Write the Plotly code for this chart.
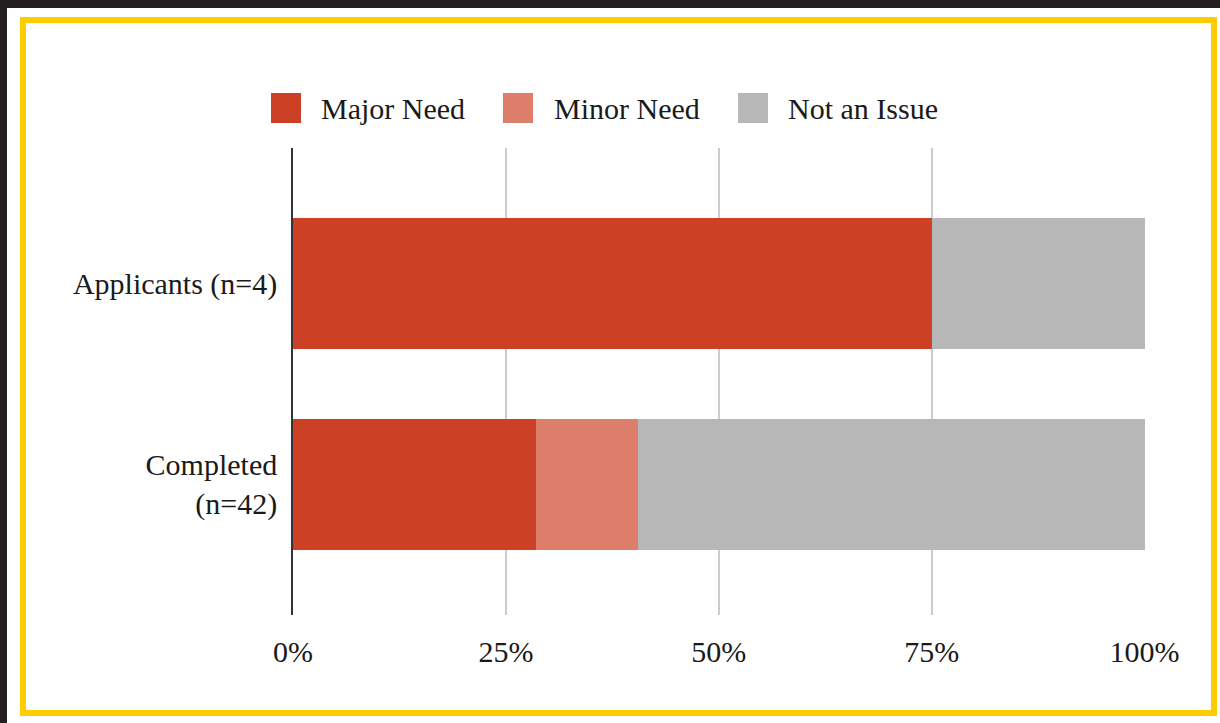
import plotly.graph_objects as go

# ---- data ----
categories = ["Applicants (n=4)", "Completed<br>(n=42)"]
series_names = ["Major Need", "Minor Need", "Not an Issue"]
major_need = [0.75, 0.2857]
minor_need = [0.0, 0.1190]
not_an_issue = [0.25, 0.5953]
x_tickvals = [0, 0.25, 0.5, 0.75, 1.0]
x_ticktext = ["0%", "25%", "50%", "75%", "100%"]

colors = ["#CC4125", "#DD7E6B", "#B7B7B7"]
FONT = "Liberation Serif, Times New Roman, serif"
TXT = "#1a1a1a"
FS = 30

W, H = 1220, 723
L, R, T, B = 293, 75, 148, 108
PW, PH = W - L - R, H - T - B


def px(x):
    return (x - L) / PW


def py(y):
    return 1 - (y - T) / PH


fig = go.Figure()
for name, vals, col in zip(series_names, [major_need, minor_need, not_an_issue], colors):
    fig.add_trace(go.Bar(
        y=categories, x=vals, name=name, orientation="h",
        marker=dict(color=col, line=dict(width=0)),
        showlegend=False, hoverinfo="x+name",
    ))

shapes = []
# page frame: dark band top/left and yellow border
shapes.append(dict(type="rect", xref="paper", yref="paper", x0=px(0), x1=px(W), y0=py(0), y1=py(8),
                   fillcolor="#231F20", line=dict(width=0), layer="above"))
shapes.append(dict(type="rect", xref="paper", yref="paper", x0=px(0), x1=px(7), y0=py(0), y1=py(H),
                   fillcolor="#231F20", line=dict(width=0), layer="above"))
shapes.append(dict(type="rect", xref="paper", yref="paper", x0=px(23), x1=px(1214), y0=py(20), y1=py(713),
                   fillcolor="rgba(0,0,0,0)", line=dict(color="#FFCC00", width=6), layer="above"))

annotations = []
sq_x = [271, 503, 738]
tx_x = [319, 552, 786]
for name, col, sx, tx in zip(series_names, colors, sq_x, tx_x):
    shapes.append(dict(type="rect", xref="paper", yref="paper", x0=px(sx), x1=px(sx + 30),
                       y0=py(93), y1=py(123), fillcolor=col, line=dict(width=0)))
    annotations.append(dict(xref="paper", yref="paper", x=px(tx), y=py(108), text=name,
                            showarrow=False, xanchor="left", yanchor="middle",
                            font=dict(family=FONT, size=FS, color=TXT)))

fig.update_layout(
    width=W, height=H,
    margin=dict(l=L, r=R, t=T, b=B),
    barmode="stack", bargap=0.35,
    paper_bgcolor="white", plot_bgcolor="white",
    font=dict(family=FONT, size=FS, color=TXT),
    shapes=shapes, annotations=annotations,
    xaxis=dict(range=[0, 1.0005], tickvals=x_tickvals, ticktext=x_ticktext,
               showgrid=True, gridcolor="#CCCCCC", gridwidth=2, zeroline=False,
               showline=False, ticks="", ticklabelstandoff=16,
               tickfont=dict(family=FONT, size=FS, color=TXT)),
    yaxis=dict(range=[1.65, -0.675], showgrid=False, zeroline=False,
               showline=True, linecolor="#333333", linewidth=1.5, ticks="",
               ticklabelstandoff=8, tickfont=dict(family=FONT, size=FS, color=TXT)),
)

fig.write_html("out.html", config={"displayModeBar": False},
               post_script="document.body.style.margin='0';")
